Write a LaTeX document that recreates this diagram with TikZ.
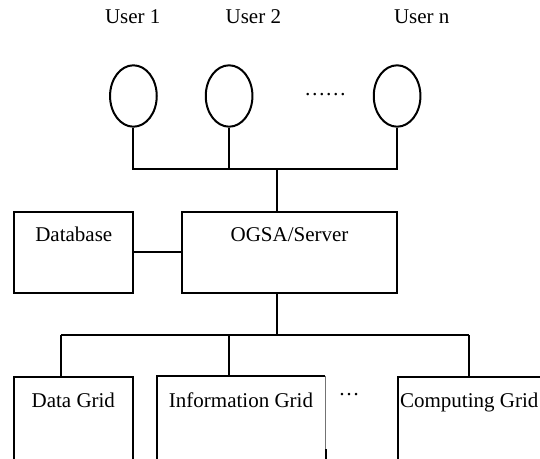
\documentclass[tikz,border=0pt]{standalone}
\usepackage{fontspec}
\setmainfont{Liberation Serif}
\usetikzlibrary{shapes.geometric}
\begin{document}
\begin{tikzpicture}[x=1pt,y=-1pt,
  ln/.style={line width=2pt},
  usr/.style={draw,ellipse,line width=2pt,minimum width=46.7pt,minimum height=61.4pt,inner sep=0pt},
  box/.style={draw,line width=2pt,inner sep=0pt},
  txt/.style={font=\fontsize{21}{25}\selectfont,inner sep=0pt,anchor=base}]
\useasboundingbox (0,0) rectangle (540,458);
\clip (0,0) rectangle (540,458);
% users
\node[txt] (l1) at (132.7,23.3) {User 1};
\node[txt] (l2) at (253.3,23.3) {User 2};
\node[txt] (ln) at (421.7,23.3) {User n};
\node[usr] (u1) at (133.4,96) {};
\node[usr] (u2) at (229.1,96) {};
\node[usr] (un) at (397.1,96) {};
\node[font=\fontsize{21}{25}\selectfont,inner sep=0pt] (dots) at (325.3,94.3) {……};
\coordinate (bus) at (277.3,169.3);
\draw[ln] (u1.south) |- (bus) -| (un.south);
\draw[ln] (u2.south) -- (u2.south |- bus);
% server and database
\node[box,minimum width=118.7pt,minimum height=81.3pt] (db) at (73.65,252.35) {};
\node[box,minimum width=214.7pt,minimum height=81.3pt] (ogsa) at (289.65,252.35) {};
\node[txt] (dbt) at (73.8,241.7) {Database};
\node[txt] (ogt) at (289.5,241.7) {OGSA/Server};
\draw[ln] (bus) -- (bus |- ogsa.north);
\draw[ln] (db.east |- 0,251.7) -- (ogsa.west |- 0,251.7);
% grids
\coordinate (bus2) at (277.3,335);
\coordinate (s1) at (61,335);
\coordinate (s2) at (229.3,335);
\coordinate (s3) at (469.3,335);
\node[box,minimum width=118.4pt,minimum height=143pt] (dg) at (73.5,448.5) {};
\node[box,draw=none,minimum width=166.2pt,minimum height=143pt] (ig) at (241.2,448.5) {};
\node[box,minimum width=146.5pt,minimum height=143pt] (cg) at (471.55,448.5) {};
\draw[ln] (ig.south west) -- (ig.north west) -- (ig.north east);
\draw[line width=0.7pt,black!55] (ig.north east) -- (ig.north east |- 0,449);
\draw[ln] (325.7,449) -- (325.7,462);
\node[txt] (dgt) at (73.3,407) {Data Grid};
\node[txt] (igt) at (241,407) {Information Grid};
\node[txt] (cgt) at (469.2,407) {Computing Grid};
\node[font=\fontsize{21}{25}\selectfont,inner sep=0pt] (dots2) at (349,394.3) {…};
\draw[ln] (bus |- ogsa.south) -- (bus2);
\draw[ln] (s1) -- (s3);
\draw[ln] (s1) -- (s1 |- dg.north);
\draw[ln] (s2) -- (s2 |- ig.north);
\draw[ln] (s3) -- (s3 |- cg.north);
\end{tikzpicture}
\end{document}
